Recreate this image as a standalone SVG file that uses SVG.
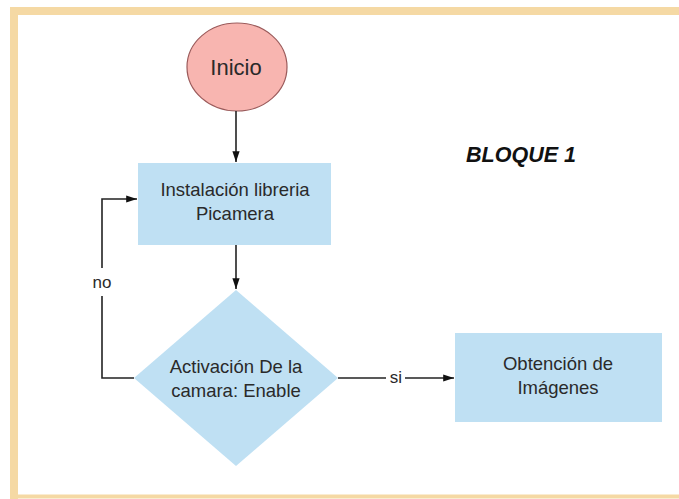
<svg xmlns="http://www.w3.org/2000/svg" width="679" height="499" viewBox="0 0 679 499">
<style>
.box{fill:#bfe0f3;stroke:none}
.lbl{font-family:"Liberation Sans",Arial,sans-serif;font-size:18.5px;fill:#2a2a2a;text-anchor:middle}
.edge{fill:none;stroke:#222;stroke-width:1.6}
</style>
<defs>
<marker id="arr" viewBox="0 0 12 10" refX="12" refY="5" markerWidth="12" markerHeight="9" markerUnits="userSpaceOnUse" orient="auto">
<path d="M0,1 L12,5 L0,9 z" fill="#111"/>
</marker>
</defs>
<rect width="679" height="499" fill="#ffffff"/>
<path d="M14,499 V11 H679" fill="none" stroke="#f5d9a4" stroke-width="8"/>
<line x1="14" y1="496.5" x2="679" y2="496.5" stroke="#f5d9a4" stroke-width="4"/>
<g id="inicio">
<ellipse cx="237" cy="67" rx="50" ry="44" fill="#f8b5b0" stroke="#9b5a5a" stroke-width="1.2"/>
<text class="lbl" x="236" y="75" style="font-size:22px">Inicio</text>
</g>
<g id="instalacion">
<rect class="box" x="138" y="163" width="193" height="82"/>
<text class="lbl" x="235" y="196">Instalación libreria</text>
<text class="lbl" x="235" y="220">Picamera</text>
</g>
<g id="activacion">
<polygon class="box" points="236,290 338,378 236,466 134,378"/>
<text class="lbl" x="236" y="373">Activación De la</text>
<text class="lbl" x="236" y="397">camara: Enable</text>
</g>
<g id="obtencion">
<rect class="box" x="455" y="333" width="207" height="89"/>
<text class="lbl" x="558" y="370">Obtención de</text>
<text class="lbl" x="558" y="394">Imágenes</text>
</g>
<g id="bloque">
<text x="521" y="162" font-family="'Liberation Sans',Arial,sans-serif" font-size="21.5" font-weight="bold" font-style="italic" text-anchor="middle" fill="#111">BLOQUE 1</text>
</g>
<g id="connectors">
<line class="edge" x1="236" y1="111" x2="236" y2="162" marker-end="url(#arr)"/>
<line class="edge" x1="236" y1="245" x2="236" y2="289" marker-end="url(#arr)"/>
<path class="edge" d="M134,378 H102 V296"/>
<path class="edge" d="M102,268 V199 H137" marker-end="url(#arr)"/>
<text class="lbl" x="102" y="288" style="font-size:17px">no</text>
<path class="edge" d="M338,378 H386"/>
<path class="edge" d="M405,378 H454" marker-end="url(#arr)"/>
<text class="lbl" x="396" y="383" style="font-size:17px">si</text>
</g>
</svg>
